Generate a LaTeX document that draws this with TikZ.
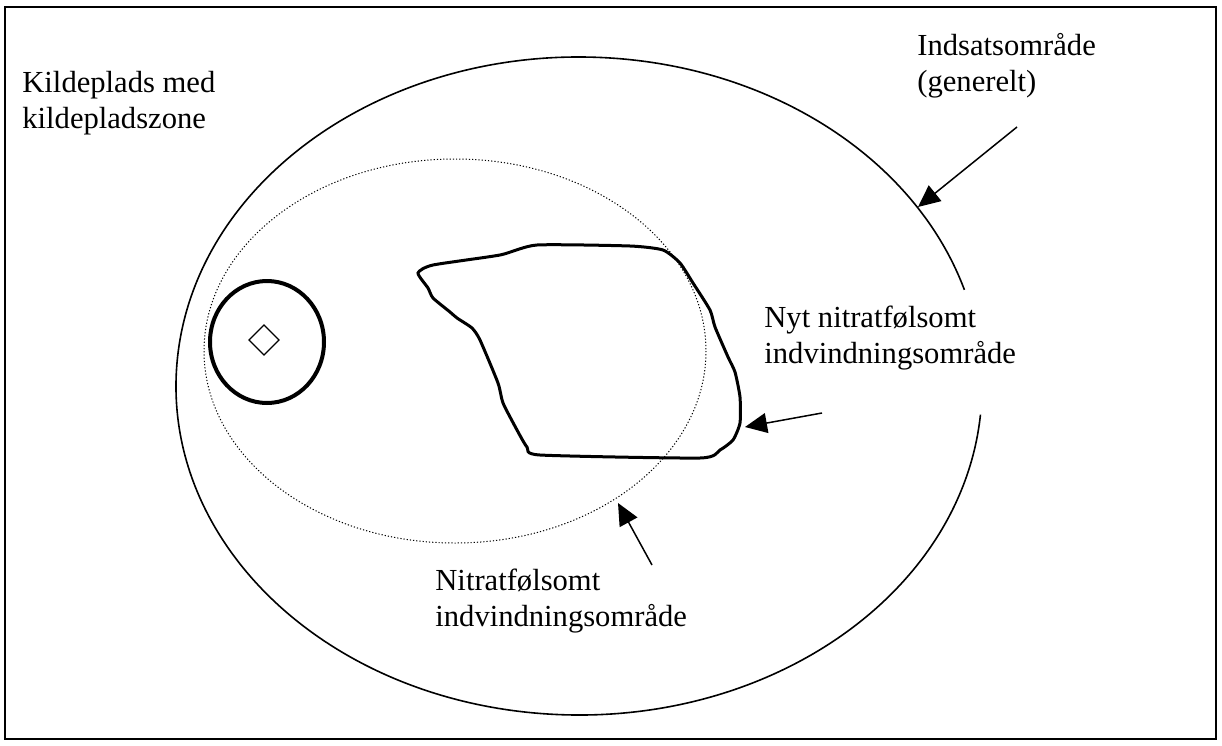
\documentclass[tikz,border=0pt]{standalone}
\usepackage{fontspec}
\setmainfont{Liberation Serif}
\usetikzlibrary{arrows.meta}

\begin{document}
\begin{tikzpicture}[x=0.5pt, y=-0.5pt,
        nhan/.style={anchor=north west, inner sep=0pt, align=left, font=\fontsize{15.3pt}{18pt}\selectfont},
        muiten/.style={-{Triangle[length=11pt, width=10pt]}, line width=0.75pt},
        vung/.style={line width=0.8pt}]
        \useasboundingbox (0,0) rectangle (1222,745);

        % Khung
        \draw[line width=1pt] (5,7) rectangle (1216,739);

        % Indsatsområde (ellipse lớn, hở bên phải)
        \draw[vung] (579,386) ++(5:403 and 329) arc[start angle=5, end angle=343, x radius=403, y radius=329];

        % Nitratfølsomt indvindningsområde
        \draw[line width=0.5pt, dash pattern=on 0.6pt off 1pt] (455,351) ellipse[x radius=251, y radius=192];

        % Kildeplads
        \draw[line width=2pt] (267,342) ellipse[x radius=57, y radius=61];
        \draw[line width=0.7pt] (264,325) -- (279,340) -- (264,355) -- (249,340) -- cycle;

        % Nyt område
        \draw[line width=1.5pt, smooth cycle, tension=0.35] plot coordinates {
            (418,273) (433,265) (500,255) (537,245) (630,246) (663,250) (680,263)
            (693,283) (710,310) (715,327) (728,357) (735,372) (740,397) (740,423)
            (733,440) (720,450) (700,458) (540,455) (527,447) (517,430) (503,403)
            (498,383) (480,340) (472,328) (457,318) (450,312) (433,298) (428,288)};

        % Tekster
        \node[nhan] (kilde) at (22,71) {Kildeplads med\\kildepladszone};
        \node[nhan] (indsats) at (917,33) {Indsatsområde\\(generelt)};
        \node[nhan] (nyt) at (764,306) {Nyt nitratfølsomt\\indvindningsområde};
        \node[nhan] (nitrat) at (435,569) {Nitratfølsomt\\indvindningsområde};

        % Mũi tên
        \coordinate (indsatsfra) at (1017,127);
        \coordinate (indsatstil) at (918,207);
        \coordinate (nytfra) at (822,413);
        \coordinate (nyttil) at (745,427);
        \coordinate (nitratfra) at (652,565);
        \coordinate (nitrattil) at (618,503);
        \draw[muiten] (indsatsfra) -- (indsatstil);
        \draw[muiten] (nytfra) -- (nyttil);
        \draw[muiten] (nitratfra) -- (nitrattil);
    \end{tikzpicture}
\end{document}
